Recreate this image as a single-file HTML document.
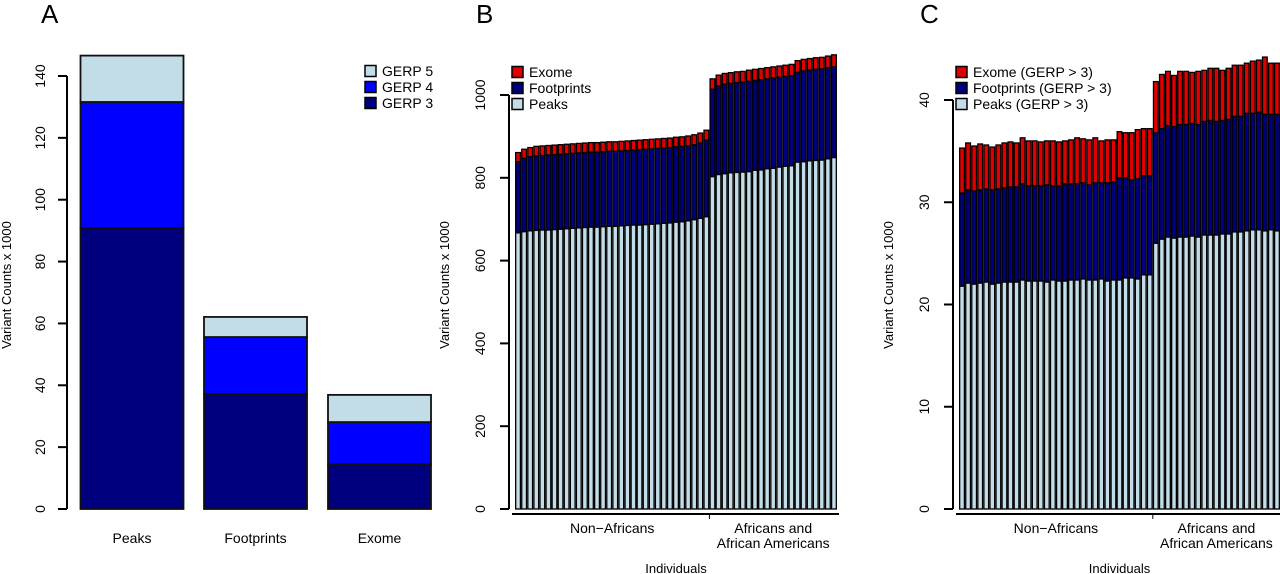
<!DOCTYPE html>
<html><head><meta charset="utf-8">
<style>
html,body{margin:0;padding:0;background:#fff;}
svg{display:block;font-family:"Liberation Sans",Arial,sans-serif;}
</style></head>
<body>
<svg id="fig" width="1280" height="574" viewBox="0 0 1280 574" xmlns="http://www.w3.org/2000/svg"></svg>
<script>
// Panel A data
const aCategories = ["Peaks","Footprints","Exome"];
const aGerp3 = [90.9, 37.2, 14.4];
const aGerp4 = [40.7, 18.4, 13.7];
const aGerp5 = [15.0, 6.5, 8.8];
const aTicks = [0,20,40,60,80,100,120,140];

// Panel B data (segment values, x1000)
const bPeaks = [667,670,672,673,674,674,675,676,677,678,679,680,681,681,682,683,683,684,685,686,686,687,688,689,690,691,693,694,696,699,702,706,
803,808,810,812,813,814,815,818,819,822,823,826,828,829,838,839,841,842,843,846,849];
const bFootprints = [172,177,179,180,180,181,181,181,181,181,181,181,181,181,181,181,181,181,181,181,182,182,182,182,182,182,182,182,181,181,182,185,
211,214,216,216,217,217,218,217,218,217,218,217,217,218,217,219,219,220,220,220,219];
const bExome = [22,22,22,23,23,23,23,23,23,23,23,23,23,23,23,23,23,23,23,23,23,23,23,23,23,23,23,23,24,24,24,24,
25,26,26,26,26,26,27,27,27,27,27,27,27,27,28,28,28,28,28,28,29];
const bTicks = [0,200,400,600,800,1000];

// Panel C data
const cPeaks = [21.8,22.1,22.0,22.1,22.2,22.0,22.1,22.2,22.2,22.2,22.4,22.3,22.3,22.3,22.2,22.4,22.3,22.3,22.4,22.4,22.5,22.4,22.4,22.5,22.3,22.4,22.4,22.6,22.6,22.5,22.9,22.9,
26.0,26.4,26.6,26.5,26.6,26.6,26.7,26.6,26.8,26.8,26.8,26.9,26.9,27.1,27.1,27.2,27.3,27.3,27.2,27.3,27.2];
const cFootprints = [9.1,9.1,9.1,9.1,9.1,9.2,9.2,9.2,9.3,9.3,9.4,9.3,9.3,9.3,9.5,9.2,9.3,9.5,9.4,9.4,9.4,9.3,9.5,9.4,9.6,9.6,10.0,9.8,9.6,9.8,9.7,9.7,
10.8,10.8,10.9,10.9,11.0,11.0,11.0,11.0,11.1,11.2,11.1,11.1,11.2,11.3,11.3,11.5,11.4,11.5,11.4,11.3,11.4];
const cExome = [4.4,4.6,4.4,4.5,4.3,4.2,4.3,4.4,4.4,4.3,4.5,4.4,4.4,4.3,4.3,4.4,4.3,4.2,4.3,4.5,4.3,4.4,4.4,4.1,4.2,4.1,4.5,4.4,4.6,4.8,4.6,4.6,
5.0,5.3,5.3,5.0,5.2,5.2,5.0,5.2,5.0,5.1,5.2,4.9,5.0,5.0,5.0,4.9,5.1,5.1,5.6,5.0,5.0];
const cTicks = [0,10,20,30,40];
const groupSizes = [32,21];
const groupLabels = [["Non\u2212Africans"],["Africans and","African Americans"]];

const NS="http://www.w3.org/2000/svg";
const svg=document.getElementById('fig');
function mk(tag,attrs,parent){const e=document.createElementNS(NS,tag);for(const k in attrs)e.setAttribute(k,attrs[k]);(parent||svg).appendChild(e);return e;}
function txt(s,attrs,parent){const e=mk('text',attrs,parent);e.textContent=s;return e;}

const LIGHT="#c2dde8", NAVY="#00007f", BLUE="#0000ff", RED="#e00000";

function yAxis(g,x,yScale,ticks,labX){
  const ax=mk('line',{x1:x,x2:x,y1:yScale(ticks[0]),y2:yScale(ticks[ticks.length-1]),stroke:"#000","stroke-width":2},g);
  
  
  ticks.forEach(t=>{
    const y=yScale(t);
    const tk=mk('line',{x1:x-9,x2:x,y1:y,y2:y,stroke:"#000","stroke-width":2},g);
    
    
    const l=txt(String(t),{x:labX,y:y,transform:`rotate(-90 ${labX} ${y})`,"text-anchor":"middle","font-size":14},g);
    
    
  });
}
function yTitle(g,x,y){
  const t=txt("Variant Counts x 1000",{x:x,y:y,transform:`rotate(-90 ${x} ${y})`,"text-anchor":"middle","font-size":13},g);
  
  
}
function letter(g,s,x){
  const t=txt(s,{x:x,y:23,"font-size":26},g);
  
  
}
function legend(g,x,y,items){
  items.forEach((it,i)=>{
    const yy=y+i*16;
    const r=mk('rect',{x:x,y:yy-5.5,width:11,height:11,fill:it[1],stroke:"#000","stroke-width":1.5},g);
    
    
    const t=txt(it[0],{x:x+17,y:yy+5,"font-size":14},g);
    
    
  });
}

// ---- Panel A ----
(function(){
  const g=mk('g',{});
  
  
  const y0=509, k=(509-76)/140;
  const yS=v=>y0-v*k;
  letter(g,"A",41);
  yAxis(g,67,yS,aTicks,45);
  yTitle(g,11,285);
  const xs=[80.5,204,328], w=103;
  aCategories.forEach((c,i)=>{
    const segs=[[aGerp3[i],NAVY],[aGerp4[i],BLUE],[aGerp5[i],LIGHT]];
    let base=0;
    segs.forEach((s,j)=>{
      const r=mk('rect',{x:xs[i],y:yS(base+s[0]),width:w,height:s[0]*k,fill:s[1],stroke:"#111","stroke-width":1.8},g);
      
      
      base+=s[0];
    });
    const t=txt(c,{x:xs[i]+w/2,y:543,"text-anchor":"middle","font-size":14},g);
    
    
  });
  legend(g,365,71,[["GERP 5",LIGHT],["GERP 4",BLUE],["GERP 3",NAVY]]);
})();

// ---- Panels B & C ----
function stacked(opts){
  const g=mk('g',{});
  
  
  const y0=509, k=(509-opts.topY)/opts.ticks[opts.ticks.length-1];
  const yS=v=>y0-v*k;
  letter(g,opts.letter,opts.axisX-33);
  yAxis(g,opts.axisX,yS,opts.ticks,opts.axisX-24);
  yTitle(g,opts.axisX-60,285);
  const n=opts.peaks.length, pitch=(opts.x1-opts.x0)/n, bw=pitch*0.78;
  const xS=i=>opts.x0+i*pitch+(pitch-bw)/2;
  for(let i=0;i<n;i++){
    const segs=[[opts.peaks[i],LIGHT,'peaks'],[opts.foot[i],NAVY,'footprints'],[opts.exome[i],RED,'exome']];
    let base=0;
    segs.forEach(s=>{
      const r=mk('rect',{x:xS(i),y:yS(base+s[0]),width:bw,height:s[0]*k,fill:s[1],stroke:"#000","stroke-width":1.3},g);
      
      
      base+=s[0];
    });
  }
  const ga=mk('line',{x1:opts.x0-3,x2:opts.x1+2,y1:514,y2:514,stroke:"#000","stroke-width":2},g);
  
  
  const bx=opts.x0+groupSizes[0]*pitch;
  const tk=mk('line',{x1:bx,x2:bx,y1:514,y2:519,stroke:"#000","stroke-width":1},g);
  
  
  let start=0;
  groupSizes.forEach((gs,gi)=>{
    const cx=opts.x0+(start+gs/2)*pitch;
    groupLabels[gi].forEach((line,li)=>{
      const t=txt(line,{x:cx,y:533+li*15,"text-anchor":"middle","font-size":14},g);
      
      
    });
    start+=gs;
  });
  const xt=txt("Individuals",{x:(opts.x0+opts.x1)/2,y:573,"text-anchor":"middle","font-size":13},g);
  
  
  legend(g,opts.axisX+3,72,opts.legend);
}
stacked({name:'panel-b',letter:'B',axisX:509,topY:95,ticks:bTicks,x0:515,x1:837,
  peaks:bPeaks,foot:bFootprints,exome:bExome,
  legend:[["Exome",RED],["Footprints",NAVY],["Peaks",LIGHT]]});
stacked({name:'panel-c',letter:'C',axisX:953,topY:100,ticks:cTicks,x0:959,x1:1280,
  peaks:cPeaks,foot:cFootprints,exome:cExome,
  legend:[["Exome (GERP > 3)",RED],["Footprints (GERP > 3)",NAVY],["Peaks (GERP > 3)",LIGHT]]});
</script>
</body></html>
